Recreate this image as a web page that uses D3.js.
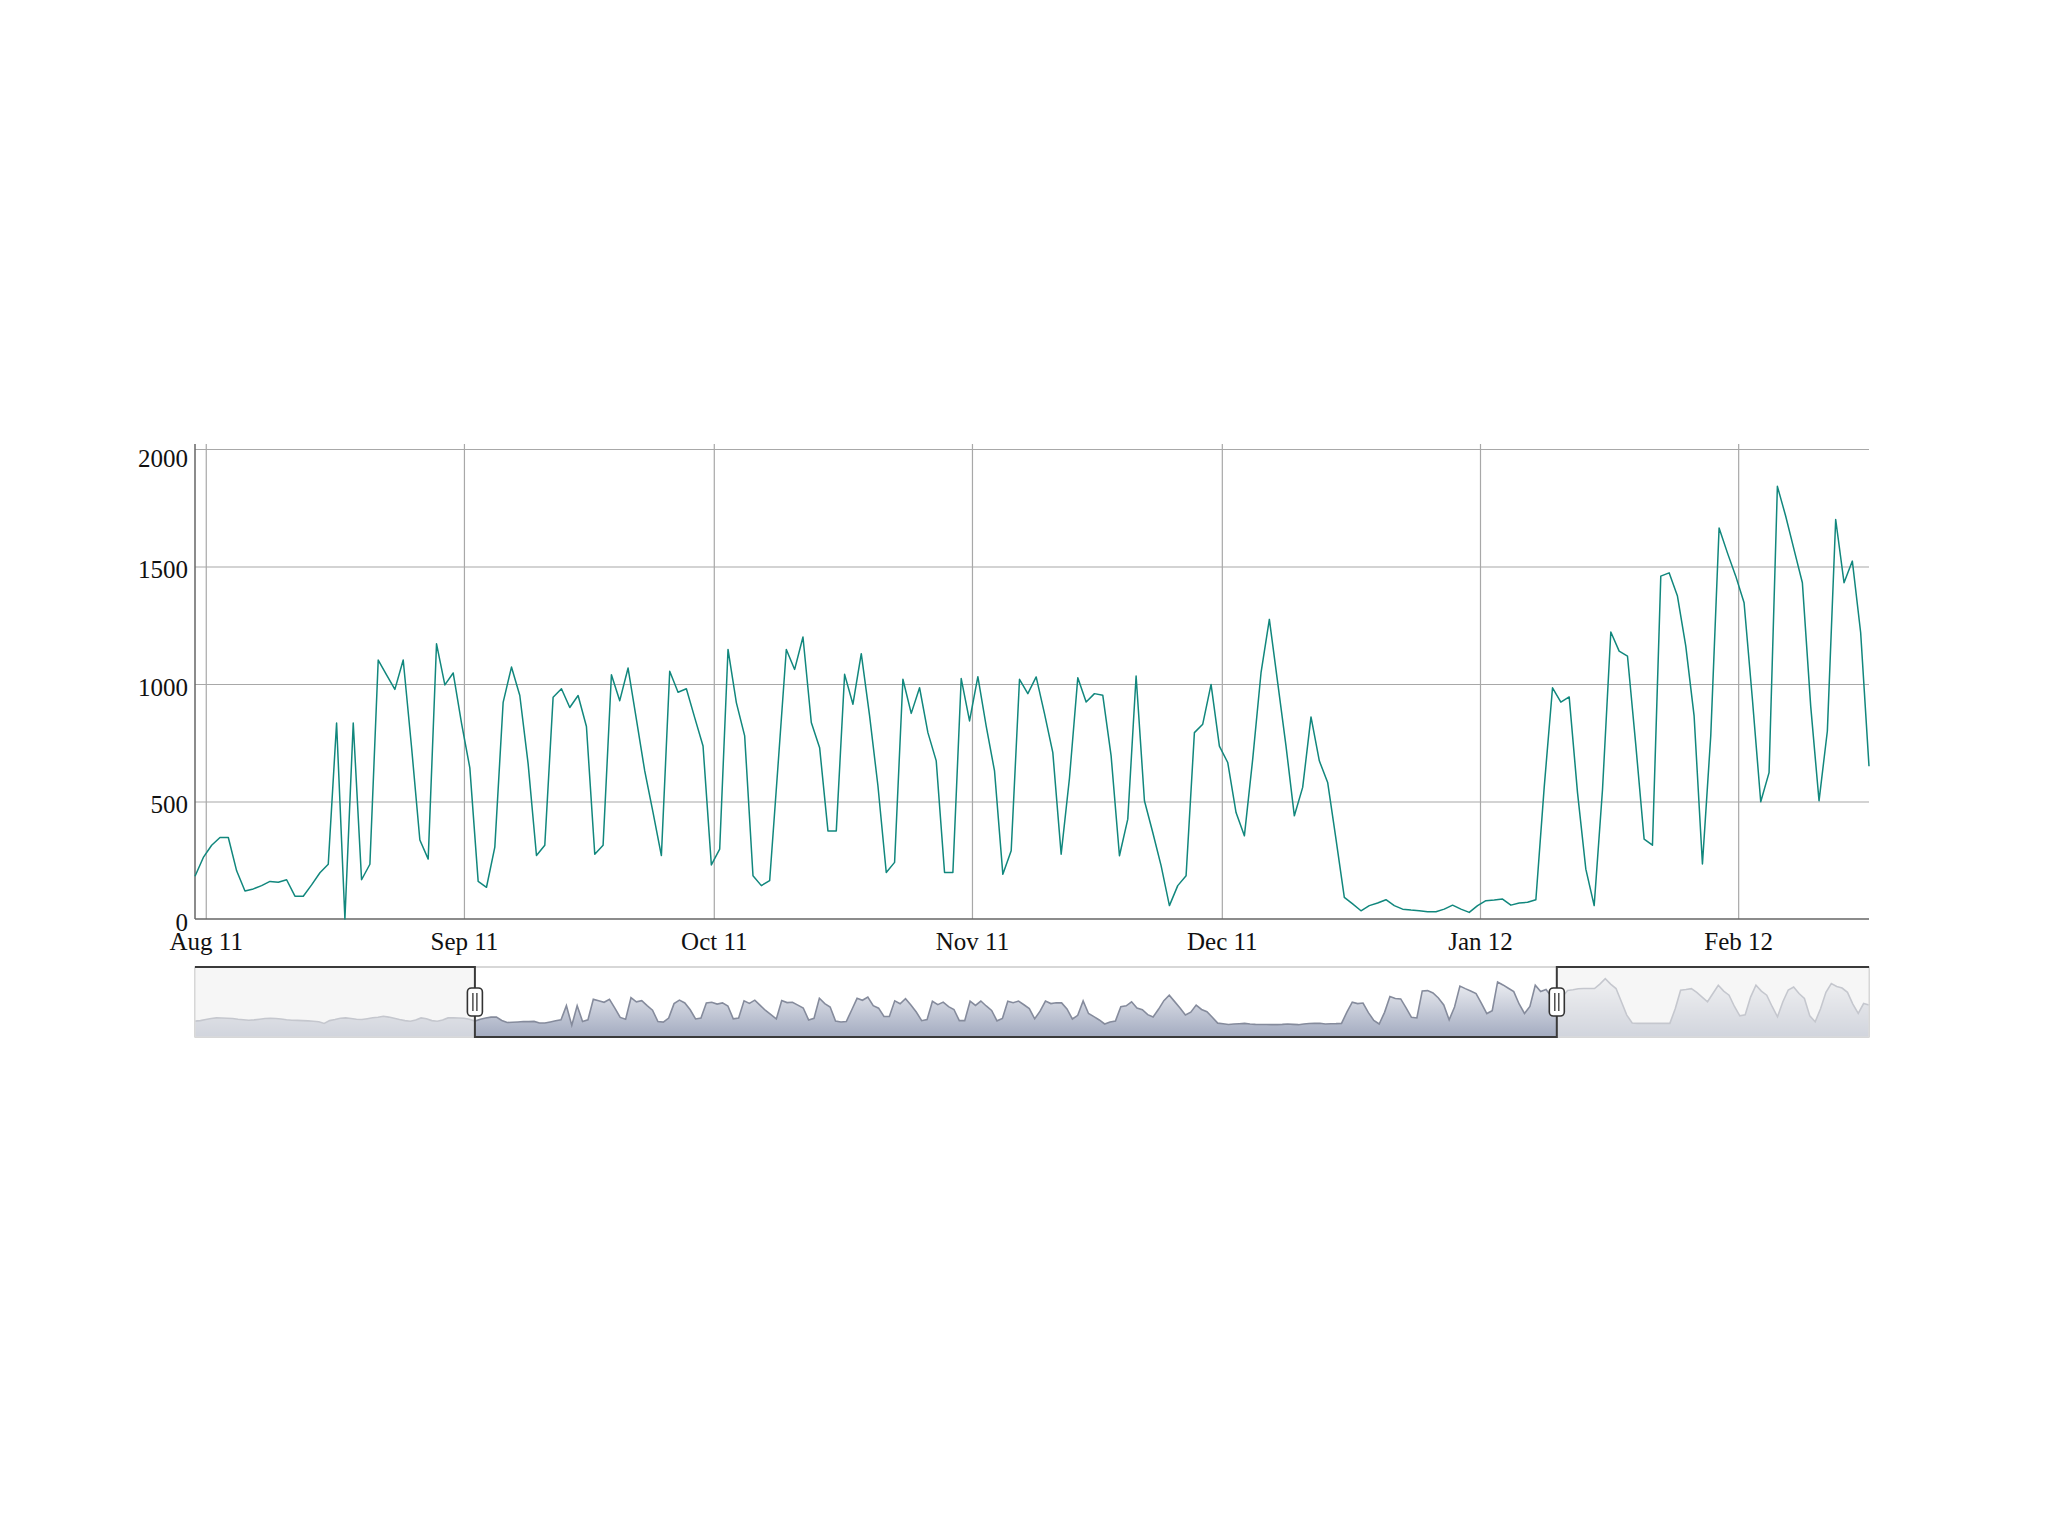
<!DOCTYPE html>
<html>
<head>
<meta charset="utf-8">
<script src="https://cdn.jsdelivr.net/npm/d3@7"></script>
<style>
  body { margin: 0; background: #fff; }
  text { font-family: "Liberation Serif", "Times New Roman", serif; font-size: 25px; fill: #111; }
</style>
</head>
<body>
<svg id="chart" width="2048" height="1536"></svg>
<script>
// Daily values shown in the main plot, first day 2011-07-31
var firstDay = [2011, 6, 31];
var visits = [
  182, 262, 314, 347, 347, 205, 119, 128, 142, 160, 156, 167, 97, 97,
  145, 197, 233, 834, 0, 834, 167, 233, 1102, 1039, 977, 1102, 732, 336,
  255, 1171, 996, 1047, 834, 643, 160, 135, 306, 922, 1072, 951, 660, 270,
  314, 944, 980, 900, 951, 819, 276, 314, 1039, 929, 1068, 849, 630, 453,
  270, 1054, 965, 980, 857, 736, 230, 297, 1147, 921, 779, 184, 142, 163,
  651, 1147, 1062, 1200, 836, 729, 375, 375, 1041, 914, 1129, 864, 567, 198,
  241, 1020, 875, 984, 793, 673, 198, 198, 1023, 843, 1031, 821, 630, 190,
  290, 1020, 959, 1030, 874, 708, 276, 600, 1027, 923, 959, 952, 694, 269,
  425, 1034, 503, 368, 227, 57, 142, 184, 793, 829, 998, 736, 666, 453,
  354, 680, 1048, 1275, 1006, 736, 439, 560, 860, 673, 581, 340, 92, 64,
  35, 57, 68, 82, 57, 42, 38, 35, 31, 31, 42, 59, 42, 28,
  57, 78, 81, 85, 59, 68, 71, 82, 560, 984, 923, 945, 538, 212,
  57, 550, 1221, 1140, 1119, 740, 340, 314, 1459, 1473, 1374, 1161, 864, 234,
  780, 1664, 1558, 1459, 1346, 935, 499, 623, 1841, 1714, 1572, 1431, 906, 503,
  800, 1700, 1431, 1523, 1218, 650
];

// Days before and after the main window, only seen in the range selector
var visitsBefore = [
  180, 200, 250, 290, 315, 310, 300, 287, 260, 240, 218, 230, 260, 290,
  301, 290, 270, 240, 218, 210, 200, 190, 176, 150, 82, 200, 245, 300,
  315, 290, 260, 245, 280, 320, 342, 382, 350, 300, 245, 200, 176, 230,
  315, 280, 200, 176, 230, 315, 315, 310, 300, 260
];
var visitsAfter = [
  1200, 1480, 1510, 1550, 1560, 1560, 1560, 1750, 1980, 1750, 1560, 1000, 434, 100,
  82, 82, 82, 82, 82, 82, 82, 700, 1489, 1520, 1559, 1400, 1200, 1000,
  1350, 1700, 1450, 1277, 800, 400, 450, 1200, 1700, 1450, 1277, 800, 364, 1000,
  1500, 1628, 1350, 1137, 400, 151, 700, 1400, 1772, 1650, 1580, 1400, 900, 503,
  925, 860
];

var yTicks = [0, 500, 1000, 1500, 2000];

// timestamps are UTC midnights, the axis is drawn in Pacific time
var tzShift = 7 * 3600 * 1000;
var dayMs = 24 * 3600 * 1000;
function dayDate(i) {
  return new Date(Date.UTC(firstDay[0], firstDay[1], firstDay[2]) + i * dayMs - tzShift);
}

var mainData = visits.map(function(v, i) { return {date: dayDate(i), value: v}; });
var allValues = visitsBefore.concat(visits, visitsAfter);
var allData = allValues.map(function(v, i) {
  return {date: dayDate(i - visitsBefore.length), value: v};
});

var svg = d3.select('#chart');

// layout
var plotLeft = 195, plotRight = 1869, plotTop = 449, plotBottom = 919, gridTop = 444;
var rsTop = 967, rsBottom = 1037;

// scales
var x = d3.scaleUtc()
  .domain([mainData[0].date, mainData[mainData.length - 1].date])
  .range([plotLeft, plotRight]);
var y = d3.scaleLinear().domain([0, 2000]).range([plotBottom, plotTop]);

var monthTicks = d3.utcMonth.range(x.domain()[0], x.domain()[1]);

// vertical grid + x labels
var xAxis = svg.append('g')
  .attr('transform', 'translate(0,' + plotBottom + ')')
  .call(d3.axisBottom(x)
    .tickValues(monthTicks)
    .tickFormat(d3.utcFormat('%b %y'))
    .tickSize(-(plotBottom - gridTop))
    .tickPadding(14));
xAxis.select('.domain').remove();
xAxis.selectAll('.tick line').attr('stroke', '#a8a8a8').attr('stroke-width', 1.2);
xAxis.selectAll('.tick text')
  .attr('font-family', null).attr('font-size', null)
  .attr('dy', '0.71em').attr('y', 13);

// horizontal grid + y labels
var yAxis = svg.append('g')
  .attr('transform', 'translate(' + plotLeft + ',0)')
  .call(d3.axisLeft(y)
    .tickValues(yTicks)
    .tickFormat(d3.format('d'))
    .tickSize(-(plotRight - plotLeft))
    .tickPadding(7));
yAxis.select('.domain').remove();
yAxis.selectAll('.tick line')
  .attr('stroke', function(d) { return d === 0 ? 'none' : '#a8a8a8'; })
  .attr('stroke-width', 1.2);
yAxis.selectAll('.tick text')
  .attr('font-family', null).attr('font-size', null)
  .attr('dy', function(d) { return d === 2000 ? '0.7em' : '0.45em'; });

// axis lines
svg.append('line')
  .attr('x1', plotLeft).attr('x2', plotLeft).attr('y1', gridTop).attr('y2', plotBottom)
  .attr('stroke', '#666').attr('stroke-width', 1.5);
svg.append('line')
  .attr('x1', plotLeft).attr('x2', plotRight).attr('y1', plotBottom).attr('y2', plotBottom)
  .attr('stroke', '#666').attr('stroke-width', 1.5);

// series line
var line = d3.line()
  .x(function(d) { return x(d.date); })
  .y(function(d) { return y(d.value); });

svg.append('path')
  .datum(mainData)
  .attr('fill', 'none')
  .attr('stroke', '#11877d')
  .attr('stroke-width', 1.5)
  .attr('stroke-linejoin', 'round')
  .attr('d', line);

// ---- range selector ----
var mx = d3.scaleUtc()
  .domain([allData[0].date, allData[allData.length - 1].date])
  .range([plotLeft, plotRight]);
var yMax = d3.max(allValues), yMin = d3.min(allValues);
var extra = (yMax - yMin) * 0.25;
var my = d3.scaleLinear().domain([yMin - extra, yMax + extra]).range([rsBottom, rsTop]);

var grad = svg.append('defs').append('linearGradient')
  .attr('id', 'rsFill')
  .attr('gradientUnits', 'userSpaceOnUse')
  .attr('x1', 0).attr('x2', 0).attr('y1', rsTop).attr('y2', rsBottom);
grad.append('stop').attr('offset', '0%').attr('stop-color', '#ffffff');
grad.append('stop').attr('offset', '100%').attr('stop-color', '#a3abc0');

var miniArea = d3.area()
  .x(function(d) { return mx(d.date); })
  .y0(rsBottom)
  .y1(function(d) { return my(d.value); });
var miniLine = d3.line()
  .x(function(d) { return mx(d.date); })
  .y(function(d) { return my(d.value); });

svg.append('path').datum(allData)
  .attr('fill', 'url(#rsFill)')
  .attr('d', miniArea);
svg.append('path').datum(allData)
  .attr('fill', 'none')
  .attr('stroke', '#858b9c')
  .attr('stroke-width', 1.6)
  .attr('d', miniLine);

// outer frame
svg.append('rect')
  .attr('x', plotLeft).attr('y', rsTop)
  .attr('width', plotRight - plotLeft).attr('height', rsBottom - rsTop)
  .attr('fill', 'none').attr('stroke', '#bdbdbd').attr('stroke-width', 1.2);

var hl = mx(x.domain()[0]), hr = mx(x.domain()[1]);

// fade the unselected parts
svg.append('rect')
  .attr('x', plotLeft).attr('y', rsTop)
  .attr('width', hl - plotLeft).attr('height', rsBottom - rsTop)
  .attr('fill', 'rgba(240,240,240,0.6)');
svg.append('rect')
  .attr('x', hr).attr('y', rsTop)
  .attr('width', plotRight - hr).attr('height', rsBottom - rsTop)
  .attr('fill', 'rgba(240,240,240,0.6)');

// window outline
svg.append('path')
  .attr('fill', 'none')
  .attr('stroke', '#3a3a3a')
  .attr('stroke-width', 2)
  .attr('d', 'M' + plotLeft + ',' + rsTop + 'H' + hl + 'V' + rsBottom +
             'H' + hr + 'V' + rsTop + 'H' + plotRight);

// handles
var handleY = (rsTop + rsBottom) / 2;
var handles = svg.selectAll('.handle').data([hl, hr]).enter()
  .append('g').attr('class', 'handle')
  .attr('transform', function(d) { return 'translate(' + d + ',' + handleY + ')'; });
handles.append('rect')
  .attr('x', -7.5).attr('y', -14).attr('width', 15).attr('height', 28)
  .attr('rx', 4).attr('fill', '#fff')
  .attr('stroke', '#333').attr('stroke-width', 1.6);
handles.selectAll('.grip').data([-2, 2]).enter()
  .append('line')
  .attr('x1', function(d) { return d; }).attr('x2', function(d) { return d; })
  .attr('y1', -9).attr('y2', 9)
  .attr('stroke', '#333').attr('stroke-width', 1.3);
</script>
</body>
</html>
